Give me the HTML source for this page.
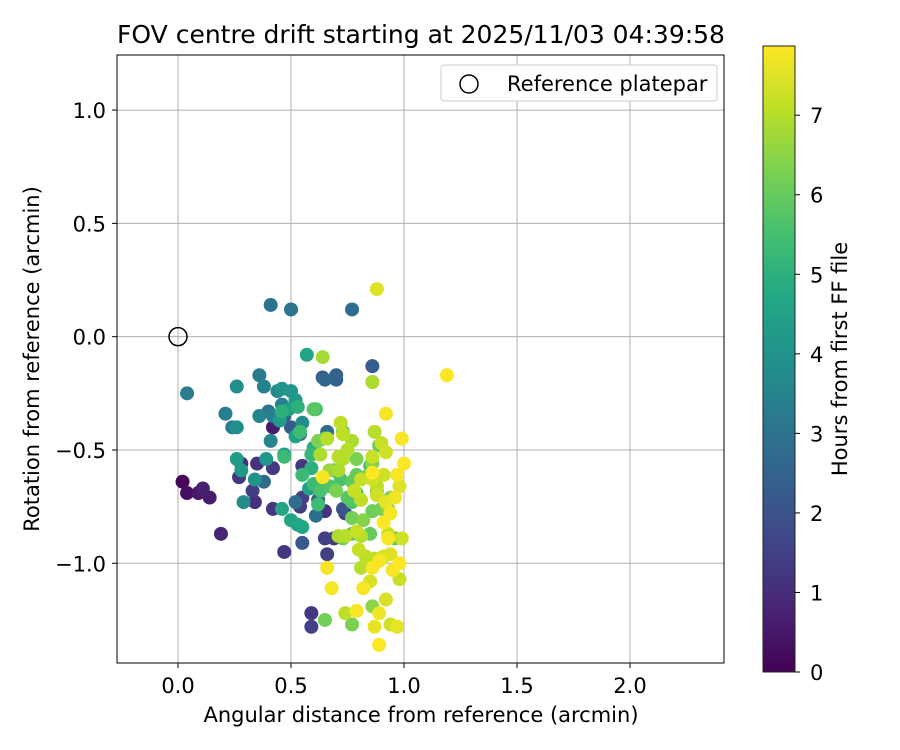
<!DOCTYPE html>
<html><head><meta charset="utf-8">
<style>
html,body{margin:0;padding:0;background:#fff;}
svg{display:block;font-family:"DejaVu Sans","Liberation Sans",sans-serif;}
</style></head>
<body>
<svg id="chart" width="900" height="750" viewBox="0 0 900 750" xmlns="http://www.w3.org/2000/svg">
<defs>
<linearGradient id="viridis" x1="0" y1="1" x2="0" y2="0">
<stop offset="0" stop-color="#440154"/><stop offset="0.1" stop-color="#482475"/><stop offset="0.2" stop-color="#414487"/><stop offset="0.3" stop-color="#355f8d"/><stop offset="0.4" stop-color="#2a788e"/><stop offset="0.5" stop-color="#21918c"/><stop offset="0.6" stop-color="#22a884"/><stop offset="0.7" stop-color="#44bf70"/><stop offset="0.8" stop-color="#7ad151"/><stop offset="0.9" stop-color="#bddf26"/><stop offset="1" stop-color="#fde725"/>
</linearGradient>
<clipPath id="plotclip"><rect x="117" y="55" width="607" height="608"/></clipPath>
</defs>
<text x="421" y="43" font-size="25" text-anchor="middle" fill="#000">FOV centre drift starting at 2025/11/03 04:39:58</text>
<g id="grid"></g>
<g id="points" clip-path="url(#plotclip)"></g>
<rect x="117" y="55" width="607" height="608" fill="none" stroke="#000" stroke-width="1"/>
<g id="ticks"></g>
<text x="421" y="722" font-size="21" text-anchor="middle">Angular distance from reference (arcmin)</text>
<text transform="translate(39,359) rotate(-90)" font-size="21" text-anchor="middle">Rotation from reference (arcmin)</text>
<g>
<rect x="441" y="65" width="276" height="36" rx="3" fill="#fff" stroke="#ccc"/>
<circle cx="469" cy="84" r="9" fill="none" stroke="#000" stroke-width="1.5"/>
<text x="507" y="91" font-size="21">Reference platepar</text>
</g>
<g>
<rect x="763" y="46" width="32" height="626" fill="url(#viridis)" stroke="#222" stroke-width="1"/>
<g id="cbticks"></g>
<text transform="translate(847,359) rotate(-90)" font-size="21" text-anchor="middle">Hours from first FF file</text>
</g>
</svg>
<script>
const xTicks = [0.0, 0.5, 1.0, 1.5, 2.0];
const xTickLabels = ["0.0", "0.5", "1.0", "1.5", "2.0"];
const yTicks = [1.0, 0.5, 0.0, -0.5, -1.0];
const yTickLabels = ["1.0", "0.5", "0.0", "\u22120.5", "\u22121.0"];
const cbTicks = [0,1,2,3,4,5,6,7];
const xs = [.02,.04,.09,.11,.14,.19,.28,.35,.42,.27,.33,.34,.42,.55,.55,.42,.47,.59,.59,.65,.69,.65,.74,.54,.66,
.41,.50,.77,.04,.24,.36,.64,.65,.70,.70,.86,.66,.54,.50,.47,.40,.61,.55,.52,.38,.73,.62,.21,
.26,.26,.38,.46,.44,.57,.46,.55,.50,.26,.28,.29,.34,.46,.53,.55,.47,.41,.52,.58,.50,.36,.42,.39,.45,.49,.52,
.46,.53,.61,.47,.54,.60,.55,.59,.60,.59,.63,.67,.62,.72,.69,.77,.77,.79,.83,.85,.79,.85,.77,.86,.77,.73,.90,.77,.86,.86,.94,.96,.62,.86,.65,.73,.88,.89,.93,.60,.65,.75,.70,.82,.79,
.64,.86,.87,.75,.77,.73,.66,.73,.72,.63,.71,.71,.67,.81,.86,.88,.86,.91,.90,.92,.78,.88,.81,.71,.74,.79,.83,.81,.87,.93,.91,.94,.81,.85,.92,.94,.74,.98,.99,.80,
.88,1.19,.92,.99,.64,.86,.98,.89,.95,.86,.82,.89,.87,.89,.97,.66,.68,.93,.96,.98,.97,1.00,.94,.91,.79,.92];
const ys = [-.64,-.69,-.69,-.67,-.71,-.87,-.56,-.56,-.58,-.62,-.68,-.73,-.76,-.57,-.71,-.40,-.95,-1.22,-1.28,-.89,-.89,-.77,-.78,-.75,-.96,
.14,.12,.12,-.25,-.40,-.17,-.18,-.19,-.17,-.19,-.13,-.42,-.43,-.40,-.35,-.33,-.79,-.91,-.73,-.64,-.76,-.72,-.34,
-.40,-.22,-.22,-.30,-.24,-.08,-.23,-.38,-.24,-.54,-.59,-.73,-.63,-.76,-.83,-.84,-.52,-.46,-.44,-.67,-.81,-.35,-.35,-.54,-.37,-.32,-.28,
-.33,-.31,-.32,-.53,-.42,-.49,-.61,-.52,-.65,-.58,-.68,-.66,-.74,-.63,-.59,-.73,-.64,-.61,-.62,-.57,-.69,-.87,-.80,-.77,-.87,-.89,-.76,-1.27,-1.19,-.56,-.71,-.89,-.46,-.20,-.45,-.42,-.68,-.48,-.76,-.32,-1.25,-.71,-.68,-.81,-.54,
-.09,-.20,-.42,-.50,-.46,-.43,-.45,-.54,-.38,-.52,-.53,-.59,-.59,-.63,-.63,-.66,-.53,-.61,-.47,-.51,-.68,-.70,-.72,-.88,-.88,-.86,-.97,-.88,-.98,-.87,-.97,-.96,-1.02,-1.08,-1.16,-1.27,-1.22,-1.07,-.89,-.94,
.21,-.17,-.34,-.45,-.62,-.60,-1.00,-.99,-1.03,-1.02,-1.11,-1.22,-1.28,-1.36,-1.28,-1.02,-1.11,-.89,-.71,-.66,-.61,-.56,-.78,-.82,-1.21,-.73];
const hours = [.1,.3,.5,.7,.6,.8,1.0,1.1,1.3,1.2,1.4,1.1,1.2,1.3,1.5,.6,1.2,1.3,1.5,1.4,1.2,1.1,1.6,1.4,1.5,
3.0,3.0,2.8,3.3,3.2,3.2,2.3,2.6,2.4,2.5,2.3,2.8,2.9,2.2,2.5,3.1,2.9,2.2,2.8,2.7,2.0,2.4,3.3,
3.9,3.8,3.5,3.4,3.7,4.6,4.0,3.8,4.1,4.3,4.2,3.8,4.0,4.6,4.5,4.7,4.4,3.6,4.5,4.4,4.6,3.6,3.4,4.1,4.3,4.4,4.2,
5.0,5.0,5.5,5.3,5.4,4.9,5.3,5.2,5.3,5.0,5.6,5.7,5.4,5.6,5.2,5.7,5.9,6.0,6.0,5.7,5.5,6.0,6.2,6.1,5.9,6.1,6.2,6.3,6.5,6.4,6.4,6.0,6.3,6.8,6.0,5.9,6.1,6.0,6.6,5.8,6.2,5.8,6.3,6.4,6.3,
6.8,6.9,7.0,7.0,6.9,7.1,7.0,7.0,7.1,6.9,7.0,6.9,6.7,7.2,7.3,7.1,7.2,7.3,7.2,7.3,7.2,7.3,7.1,6.9,7.0,7.2,7.1,7.0,7.1,7.2,7.4,7.5,7.0,7.4,7.4,7.3,7.1,7.2,7.3,7.2,
7.5,7.9,7.8,7.8,7.8,7.9,7.9,7.8,7.8,7.8,7.8,7.7,7.6,7.9,7.6,7.8,7.8,7.8,7.7,7.5,7.8,7.9,7.8,7.9,7.8,7.6];

const NS = "http://www.w3.org/2000/svg";
const X0 = 117, X1 = 724, Y0 = 55, Y1 = 663;
const xMin = -0.27, xMax = 2.416, yMin = -1.44, yMax = 1.243;
const hMin = 0, hMax = 7.87, CB0 = 672, CB1 = 46;
function sx(v){ return X0 + (v - xMin) / (xMax - xMin) * (X1 - X0); }
function sy(v){ return Y1 - (v - yMin) / (yMax - yMin) * (Y1 - Y0); }
function sh(v){ return CB0 - (v - hMin) / (hMax - hMin) * (CB0 - CB1); }
const stops = [[68,1,84],[72,36,117],[65,68,135],[53,95,141],[42,120,142],[33,145,140],[34,168,132],[68,191,112],[122,209,81],[189,223,38],[253,231,37]];
function viridis(t){
  t = Math.max(0, Math.min(1, t)) * 10;
  const i = Math.min(9, Math.floor(t)), f = t - i;
  const a = stops[i], b = stops[i+1];
  return "rgb(" + a.map((c,k)=>Math.round(c + (b[k]-c)*f)).join(",") + ")";
}
function mk(tag, attrs, parent){
  const el = document.createElementNS(NS, tag);
  for (const k in attrs) el.setAttribute(k, attrs[k]);
  parent.appendChild(el);
  return el;
}
const grid = document.getElementById("grid");
const ticks = document.getElementById("ticks");
xTicks.forEach((v,i)=>{
  const x = sx(v);
  const gl = mk("line",{x1:x,x2:x,y1:Y0,y2:Y1,stroke:"#b0b0b0","stroke-width":1},grid);
  
  
  const tk = mk("line",{x1:x,x2:x,y1:Y1,y2:Y1+5,stroke:"#000"},ticks);
  
  
  const t = mk("text",{x:x,y:Y1+30,"font-size":21,"text-anchor":"middle"},ticks);
  t.textContent = xTickLabels[i];
  
  
});
yTicks.forEach((v,i)=>{
  const y = sy(v);
  const gl = mk("line",{x1:X0,x2:X1,y1:y,y2:y,stroke:"#b0b0b0","stroke-width":1},grid);
  
  
  const tk = mk("line",{x1:X0-5,x2:X0,y1:y,y2:y,stroke:"#000"},ticks);
  
  
  const t = mk("text",{x:X0-11,y:y+8,"font-size":21,"text-anchor":"end"},ticks);
  t.textContent = yTickLabels[i];
  
  
});
const cbt = document.getElementById("cbticks");
cbTicks.forEach(v=>{
  const y = sh(v);
  const tk = mk("line",{x1:795,x2:800,y1:y,y2:y,stroke:"#000"},cbt);
  
  
  const t = mk("text",{x:810,y:y+8,"font-size":21},cbt);
  t.textContent = String(v);
  
  
});
const pts = document.getElementById("points");
const order = hours.map((h,i)=>i).sort((a,b)=>hours[a]-hours[b]);
order.forEach(i=>{
  const c = mk("circle",{cx:sx(xs[i]),cy:sy(ys[i]),r:7,fill:viridis((hours[i]-hMin)/(hMax-hMin))},pts);
  
  
});
const ref = mk("circle",{cx:sx(0),cy:sy(0),r:9,fill:"none",stroke:"#000","stroke-width":1.5},pts);


</script>
</body></html>
